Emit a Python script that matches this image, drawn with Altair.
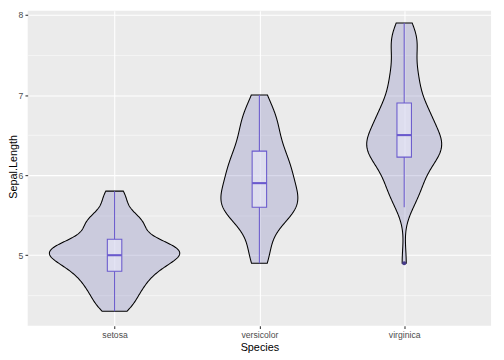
import altair as alt
import numpy as np
import pandas as pd

species = ["setosa", "versicolor", "virginica"]

setosa = [5.1, 4.9, 4.7, 4.6, 5.0, 5.4, 4.6, 5.0, 4.4, 4.9, 5.4, 4.8, 4.8, 4.3, 5.8, 5.7, 5.4, 5.1, 5.7, 5.1,
          5.4, 5.1, 4.6, 5.1, 4.8, 5.0, 5.0, 5.2, 5.2, 4.7, 4.8, 5.4, 5.2, 5.5, 4.9, 5.0, 5.5, 4.9, 4.4, 5.1,
          5.0, 4.5, 4.4, 5.0, 5.1, 4.8, 5.1, 4.6, 5.3, 5.0]
versicolor = [7.0, 6.4, 6.9, 5.5, 6.5, 5.7, 6.3, 4.9, 6.6, 5.2, 5.0, 5.9, 6.0, 6.1, 5.6, 6.7, 5.6, 5.8, 6.2, 5.6,
              5.9, 6.1, 6.3, 6.1, 6.4, 6.6, 6.8, 6.7, 6.0, 5.7, 5.5, 5.5, 5.8, 6.0, 5.4, 6.0, 6.7, 6.3, 5.6, 5.5,
              5.5, 6.1, 5.8, 5.0, 5.6, 5.7, 5.7, 6.2, 5.1, 5.7]
virginica = [6.3, 5.8, 7.1, 6.3, 6.5, 7.6, 4.9, 7.3, 6.7, 7.2, 6.5, 6.4, 6.8, 5.7, 5.8, 6.4, 6.5, 7.7, 7.7, 6.0,
             6.9, 5.6, 7.7, 6.3, 6.7, 7.2, 6.2, 6.1, 6.4, 7.2, 7.4, 7.9, 6.4, 6.3, 6.1, 7.7, 6.3, 6.4, 6.0, 6.9,
             6.7, 6.9, 5.8, 6.8, 6.7, 6.7, 6.3, 6.5, 6.2, 5.9]

groups = [setosa, versicolor, virginica]

rows = []
for i, (name, vals) in enumerate(zip(species, groups)):
    for v in vals:
        rows.append({"Species": name, "idx": i + 1, "value": v})
df = pd.DataFrame(rows)


def bw_nrd0(vals):
    a = np.asarray(vals)
    sd = a.std(ddof=1)
    iqr = np.percentile(a, 75) - np.percentile(a, 25)
    return 0.9 * min(sd, iqr / 1.34) * len(a) ** (-0.2)


def kde_max(vals, bw):
    a = np.asarray(vals)
    g = np.linspace(a.min(), a.max(), 512)
    d = np.exp(-0.5 * ((g[:, None] - a[None, :]) / bw) ** 2).sum(axis=1) / (len(a) * bw * np.sqrt(2 * np.pi))
    return d.max()


bws = [bw_nrd0(g) for g in groups]
maxd = max(kde_max(g, b) for g, b in zip(groups, bws))
K = 0.45 / maxd

allv = df["value"]
rng = allv.max() - allv.min()
ydom = [allv.min() - 0.05 * rng, allv.max() + 0.05 * rng]

label_expr = "[" + ",".join("'%s'" % s for s in species) + "][datum.value - 1]"

W, H = 471, 320

xscale = alt.Scale(domain=[0.4, len(species) + 0.6], nice=False, zero=False)
yscale = alt.Scale(domain=ydom, nice=False, zero=False, range=[H, -2.3])

xaxis = alt.Axis(values=[1, 2, 3], labelExpr=label_expr, title="Species", grid=True,
                 gridColor="white", gridWidth=1.07, domain=False, tickColor="#333333",
                 tickWidth=1.07, tickSize=2.75, labelColor="#4D4D4D", labelFontSize=8.8,
                 labelPadding=2.2, titlePadding=2.5, titleFontSize=11, titleColor="black",
                 titleFontWeight="normal", labelFont="Liberation Sans", titleFont="Liberation Sans")
yaxis = alt.Axis(values=[4.5, 5, 5.5, 6, 6.5, 7, 7.5, 8],
                 labelExpr="datum.value % 1 === 0 ? format(datum.value, 'd') : ''",
                 title="Sepal.Length", grid=True, gridColor="white",
                 gridWidth={"condition": {"test": "datum.value % 1 === 0", "value": 1.07}, "value": 0.53},
                 tickOpacity={"condition": {"test": "datum.value % 1 === 0", "value": 1}, "value": 0},
                 domain=False, tickColor="#333333", tickWidth=1.07, tickSize=2.75,
                 labelColor="#4D4D4D", labelFontSize=8.8, labelPadding=2.2,
                 titleFontSize=11, titleColor="black", titleFontWeight="normal",
                 titleX=-11, titleY=H / 2 - 2, titleBaseline="alphabetic", titleAngle=270,
                 labelFont="Liberation Sans", titleFont="Liberation Sans")

base = alt.Chart(df)

violins = []
for i, (name, vals) in enumerate(zip(species, groups)):
    v = base.transform_filter(alt.datum.Species == name).transform_density(
        "value", as_=["value", "density"], bandwidth=bws[i],
        extent=[float(min(vals)), float(max(vals))], steps=256
    ).transform_calculate(
        xl=f"{i + 1} - datum.density * {K}",
        xr=f"{i + 1} + datum.density * {K}",
    ).mark_area(orient="horizontal", fill="#8080BC", fillOpacity=0.3,
                stroke="black", strokeWidth=1.07).encode(
        y=alt.Y("value:Q", scale=yscale, axis=yaxis),
        x=alt.X("xl:Q", scale=xscale, axis=xaxis),
        x2="xr:Q",
    )
    violins.append(v)

stats = base.transform_joinaggregate(
    q1="q1(value)", q3="q3(value)", med="median(value)", groupby=["Species"]
).transform_calculate(
    lo="datum.q1 - 1.5 * (datum.q3 - datum.q1)",
    hi="datum.q3 + 1.5 * (datum.q3 - datum.q1)",
)

summary = stats.transform_calculate(
    inr="datum.value >= datum.lo && datum.value <= datum.hi ? datum.value : null"
).transform_aggregate(
    wmin="min(inr)", wmax="max(inr)", q1="min(q1)", q3="min(q3)", med="min(med)", idx="min(idx)",
    groupby=["Species"]
).transform_calculate(
    bl="datum.idx - 0.05", br="datum.idx + 0.05"
)

box_color = "#6A5ACD"

whisk_hi = summary.mark_rule(color=box_color, strokeWidth=1.07).encode(
    x=alt.X("idx:Q", scale=xscale), y=alt.Y("q3:Q", scale=yscale), y2="wmax:Q")
whisk_lo = summary.mark_rule(color=box_color, strokeWidth=1.07).encode(
    x=alt.X("idx:Q", scale=xscale), y=alt.Y("wmin:Q", scale=yscale), y2="q1:Q")
boxes = summary.mark_rect(fill="#F0F0FF", fillOpacity=0.5, stroke=box_color, strokeWidth=1.07).encode(
    x=alt.X("bl:Q", scale=xscale), x2="br:Q", y=alt.Y("q1:Q", scale=yscale), y2="q3:Q")
medians = summary.mark_rule(color=box_color, strokeWidth=2.13).encode(
    x=alt.X("bl:Q", scale=xscale), x2="br:Q", y=alt.Y("med:Q", scale=yscale))

outliers = stats.transform_filter(
    "datum.value < datum.lo || datum.value > datum.hi"
).mark_circle(color="#483D8B", opacity=1, size=18).encode(
    x=alt.X("idx:Q", scale=xscale), y=alt.Y("value:Q", scale=yscale))

chart = alt.layer(*violins, whisk_hi, whisk_lo, boxes, medians, outliers).properties(
    width=W, height=H,
    autosize=alt.AutoSizeParams(type="none"),
    padding={"left": 20, "top": 0, "right": 5, "bottom": 32},
).configure_view(fill="#EBEBEB", strokeWidth=0)

chart.save("out.html", embed_options={"renderer": "svg", "actions": False})
